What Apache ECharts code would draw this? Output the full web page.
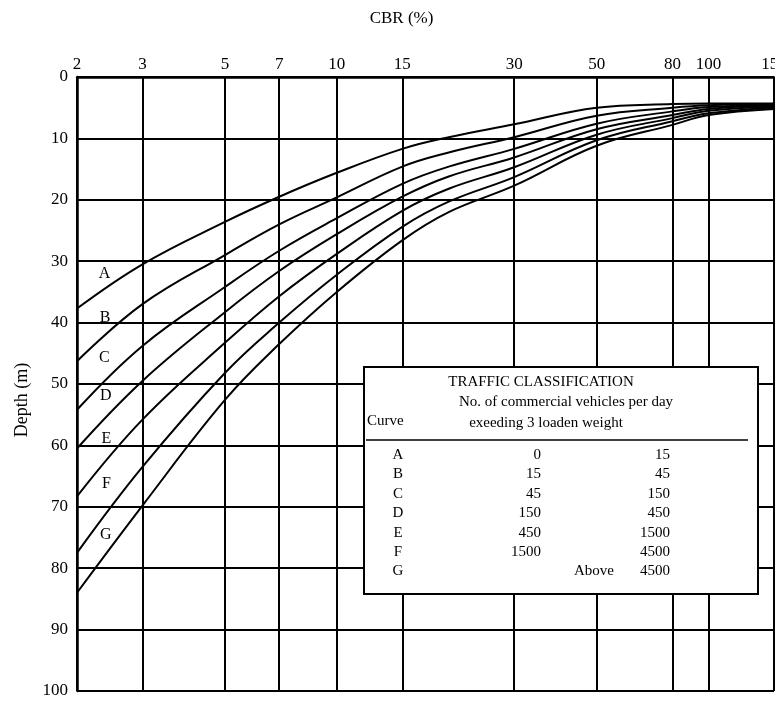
<!DOCTYPE html>
<html>
<head>
<meta charset="utf-8">
<script src="https://cdn.jsdelivr.net/npm/echarts@6/dist/echarts.min.js"></script>
<style>
html,body{margin:0;padding:0;background:#fff;}
#chart{width:775px;height:701px;}
</style>
</head>
<body>
<div id="chart"></div>
<script>
// ---- data ----
const cbrTicks = [2, 3, 5, 7, 10, 15, 30, 50, 80, 100, 150];
const cbrPoints = [2, 3, 5, 7, 10, 15, 20, 30, 50, 80, 100, 150];
const curveA = [37.7, 30.5, 23.6, 19.5, 15.6, 11.7, 9.8, 7.7, 5.0, 4.4, 4.3, 4.3];
const curveB = [46.3, 37.0, 29.0, 24.0, 19.6, 14.6, 12.3, 9.8, 6.3, 5.0, 4.6, 4.4];
const curveC = [54.2, 43.8, 34.2, 28.3, 23.0, 17.4, 14.6, 11.7, 7.6, 5.6, 4.9, 4.5];
const curveD = [60.5, 49.5, 38.3, 31.6, 25.6, 19.5, 16.2, 13.1, 8.5, 6.2, 5.2, 4.6];
const curveE = [68.3, 55.8, 43.3, 35.7, 28.8, 21.8, 18.2, 14.7, 9.4, 6.7, 5.5, 4.8];
const curveF = [77.5, 63.5, 48.2, 40.0, 32.2, 24.4, 20.3, 16.3, 10.3, 7.2, 5.9, 5.0];
const curveG = [84.0, 69.8, 52.6, 43.5, 35.0, 26.6, 22.0, 17.7, 11.2, 7.8, 6.2, 5.2];
const curveNames = ['A', 'B', 'C', 'D', 'E', 'F', 'G'];
const curveLabelCBR = [2.37, 2.38, 2.37, 2.39, 2.40, 2.40, 2.39];
const curveLabelDepth = [32.1, 39.2, 45.7, 52.0, 59.0, 66.3, 74.6];
const trafficLower = ['0', '15', '45', '150', '450', '1500', ''];
const trafficUpper = ['15', '45', '150', '450', '1500', '4500', '4500'];
const tableTitle = 'TRAFFIC CLASSIFICATION';
const tableSub1 = 'No. of commercial vehicles per day';
const tableSub2 = 'exeeding 3 loaden weight';

const curves = [curveA, curveB, curveC, curveD, curveE, curveF, curveG];
const FONT = '"Liberation Serif", "Times New Roman", serif';

const chart = echarts.init(document.getElementById('chart'), null, {renderer: 'canvas'});

const lineSeries = curves.map((vals, k) => ({
  name: curveNames[k],
  type: 'line',
  data: cbrPoints.map((x, i) => [x, vals[i]]),
  symbol: 'none',
  smooth: 0.4,
  silent: true,
  lineStyle: {color: '#000', width: 2}
}));

const labelSeries = {
  type: 'scatter',
  silent: true,
  symbolSize: 0,
  itemStyle: {opacity: 1, color: '#000'},
  data: curveNames.map((n, k) => ({name: n, value: [curveLabelCBR[k], curveLabelDepth[k]]})),
  label: {
    show: true, position: 'inside', formatter: p => p.name,
    fontFamily: FONT, fontSize: 16, color: '#000', opacity: 1
  }
};

// table (legend box)
const box = {x: 364, y: 367, w: 394, h: 227};
const graphics = [
  {type: 'rect', z: 100, shape: {x: box.x, y: box.y, width: box.w, height: box.h},
   style: {fill: '#fff', stroke: '#000', lineWidth: 2}},
  {type: 'text', z: 101, x: 541, y: 382, style: {text: tableTitle, font: '15px ' + FONT, fill: '#000', align: 'center', verticalAlign: 'middle'}},
  {type: 'text', z: 101, x: 566, y: 402, style: {text: tableSub1, font: '15px ' + FONT, fill: '#000', align: 'center', verticalAlign: 'middle'}},
  {type: 'text', z: 101, x: 546, y: 423, style: {text: tableSub2, font: '15px ' + FONT, fill: '#000', align: 'center', verticalAlign: 'middle'}},
  {type: 'text', z: 101, x: 367, y: 421, style: {text: 'Curve', font: '15px ' + FONT, fill: '#000', align: 'left', verticalAlign: 'middle'}},
  {type: 'line', z: 101, shape: {x1: 366, y1: 440, x2: 748, y2: 440}, style: {stroke: '#000', lineWidth: 1.5}}
];
curveNames.forEach((n, i) => {
  const yy = 455 + i * 19.4;
  graphics.push({type: 'text', z: 101, x: 398, y: yy, style: {text: n, font: '15px ' + FONT, fill: '#000', align: 'center', verticalAlign: 'middle'}});
  if (trafficLower[i]) {
    graphics.push({type: 'text', z: 101, x: 541, y: yy, style: {text: trafficLower[i], font: '15px ' + FONT, fill: '#000', align: 'right', verticalAlign: 'middle'}});
  } else {
    graphics.push({type: 'text', z: 101, x: 614, y: yy, style: {text: 'Above', font: '15px ' + FONT, fill: '#000', align: 'right', verticalAlign: 'middle'}});
  }
  graphics.push({type: 'text', z: 101, x: 670, y: yy, style: {text: trafficUpper[i], font: '15px ' + FONT, fill: '#000', align: 'right', verticalAlign: 'middle'}});
});

chart.setOption({
  animation: false,
  backgroundColor: '#fff',
  grid: {left: 77, top: 77, right: 1, bottom: 10, containLabel: false, outerBoundsMode: 'none'},
  xAxis: {
    type: 'log', logBase: 10, min: 2, max: 150, position: 'top',
    name: 'CBR (%)', nameLocation: 'middle', nameGap: 50,
    nameTextStyle: {fontFamily: FONT, fontSize: 17, color: '#000', padding: [0, 48, 0, 0]},
    axisLine: {show: true, onZero: false, lineStyle: {color: '#000', width: 2.5}},
    axisTick: {show: false, customValues: cbrTicks},
    axisLabel: {customValues: cbrTicks, formatter: v => String(Math.round(v)), fontFamily: FONT, fontSize: 17, color: '#000', margin: 4},
    splitLine: {show: true, lineStyle: {color: '#000', width: 2}},
    minorSplitLine: {show: false}
  },
  yAxis: {
    type: 'value', inverse: true, min: 0, max: 100, interval: 10,
    name: 'Depth (m)', nameLocation: 'middle', nameGap: 44,
    nameTextStyle: {fontFamily: FONT, fontSize: 18, color: '#000', padding: [0, 32, 0, 0]},
    axisLine: {show: true, onZero: false, lineStyle: {color: '#000', width: 2.5}},
    axisTick: {show: false},
    axisLabel: {fontFamily: FONT, fontSize: 17, color: '#000', margin: 9},
    splitLine: {show: true, lineStyle: {color: '#000', width: 2}}
  },
  series: [...lineSeries, labelSeries],
  graphic: graphics
});
</script>
</body>
</html>
